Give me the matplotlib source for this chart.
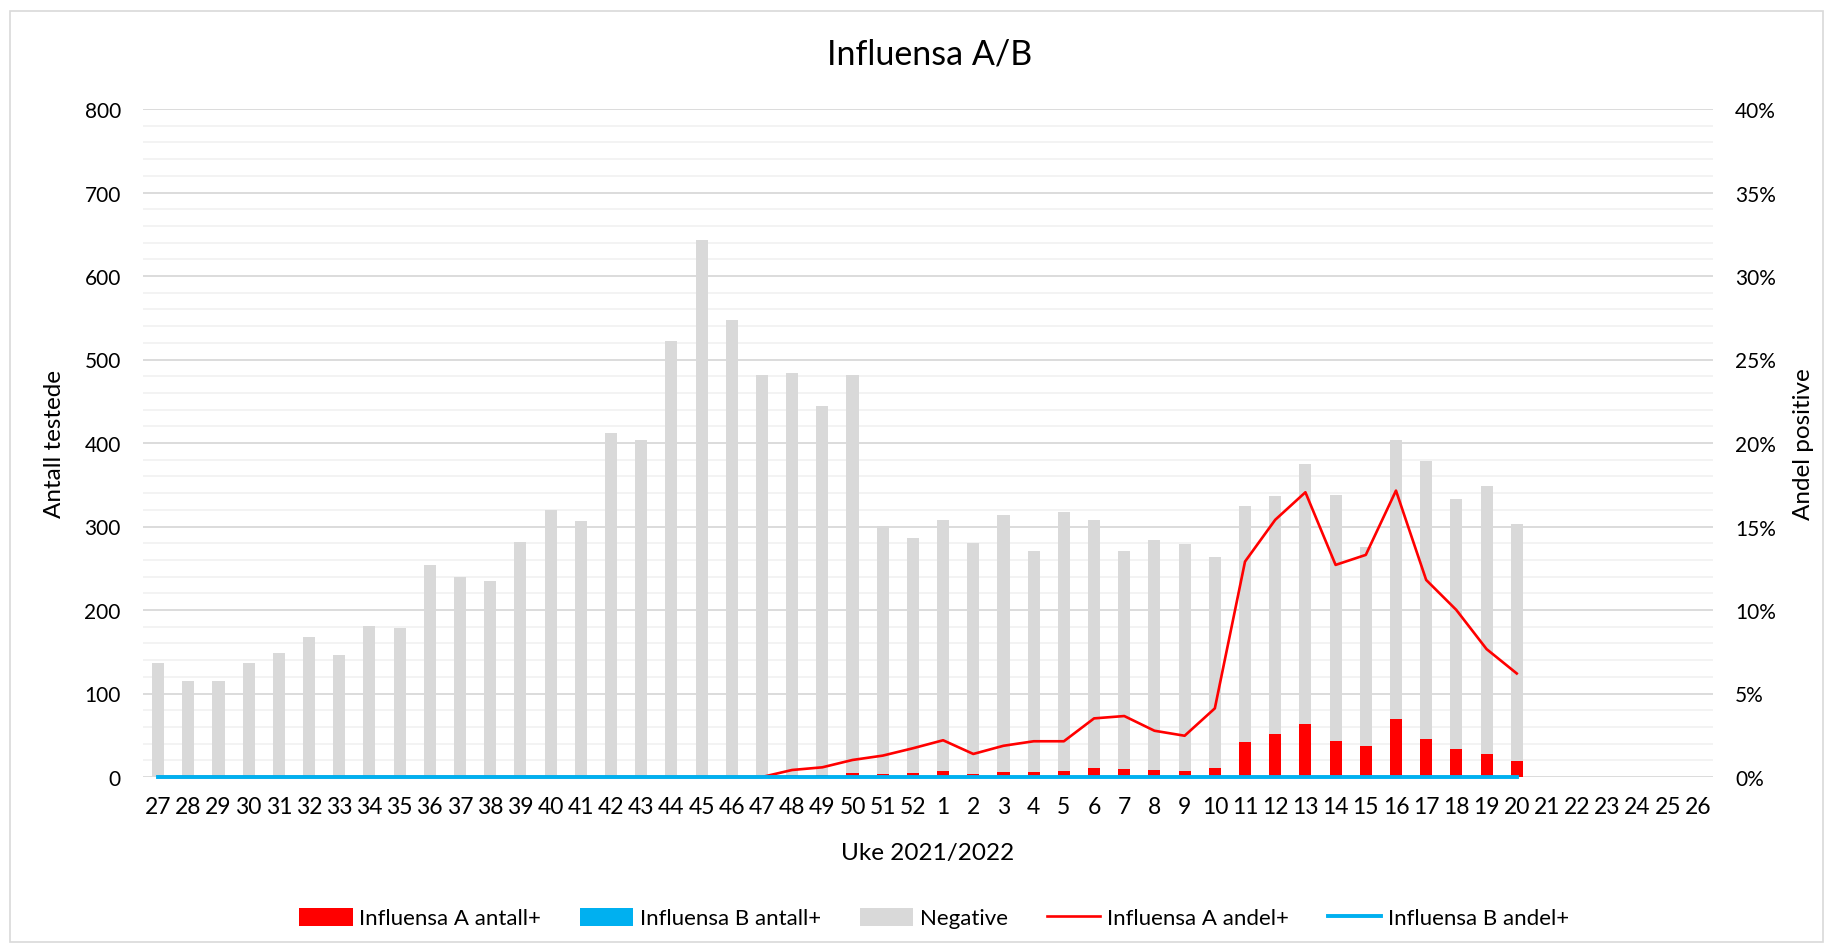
import matplotlib
matplotlib.use("Agg")
import matplotlib.pyplot as plt
from matplotlib.patches import Rectangle
from matplotlib.ticker import MultipleLocator, FuncFormatter
import numpy as np

plt.rcParams['font.family'] = ['Lato', 'DejaVu Sans']

weeks = [str(w) for w in range(27, 53)] + [str(w) for w in range(1, 27)]

# Influensa A positive counts (weeks 27..20), None where no data
flu_a_count = [0]*21 + [2, 2, 5, 4, 5, 7, 4, 6, 6, 7, 11, 10, 8, 7, 11,
                        42, 52, 64, 43, 37, 69, 45, 33, 27, 19] + [None]*6
flu_b_count = [0]*46 + [None]*6
negative = [136, 115, 115, 136, 149, 168, 146, 181, 178, 254, 239, 235, 282,
            320, 306, 412, 404, 522, 643, 547, 482, 482, 442, 477, 297, 281,
            301, 276, 308, 265, 310, 297, 261, 276, 272, 253, 282, 285, 311,
            295, 238, 334, 334, 300, 321, 284] + [None]*6
# Share positive (%)
flu_a_pct = [0]*21 + [0.42, 0.58, 1.02, 1.28, 1.72, 2.2, 1.38, 1.87, 2.14, 2.14,
                      3.51, 3.65, 2.77, 2.47, 4.11, 12.9, 15.4, 17.05, 12.7, 13.3,
                      17.15, 11.8, 10.0, 7.66, 6.2] + [None]*6
flu_b_pct = [0]*46 + [None]*6

RED = '#FF0000'
BLUE = '#00B0F0'
GRAY = '#D9D9D9'

def arr(v):
    return np.array([np.nan if x is None else x for x in v], dtype=float)

a = arr(flu_a_count)
b = arr(flu_b_count)
neg = arr(negative)
x = np.arange(len(weeks))

fig = plt.figure(figsize=(18.33, 9.53), dpi=100)
fig.add_artist(Rectangle((10/1833, 1-943/953), 1813/1833, 931/953,
                         transform=fig.transFigure, fill=False,
                         edgecolor='#D9D9D9', linewidth=1.2))
ax = fig.add_axes([143/1833, 1-778/953, (1713-143)/1833, (778-110)/953])
w = 0.4
h1 = ax.bar(x, np.nan_to_num(a), width=w, color=RED, label='Influensa A antall+', zorder=2)
h2 = ax.bar(x, np.nan_to_num(b), width=w, bottom=np.nan_to_num(a), color=BLUE,
            label='Influensa B antall+', zorder=2)
h3 = ax.bar(x, np.nan_to_num(neg), width=w, bottom=np.nan_to_num(a) + np.nan_to_num(b),
            color=GRAY, label='Negative', zorder=2)
ax.set_xlim(-0.5, len(weeks) - 0.5)
ax.set_ylim(0, 800)
ax.yaxis.set_major_locator(MultipleLocator(100))
ax.yaxis.set_minor_locator(MultipleLocator(20))
ax.grid(which='major', axis='y', color='#D9D9D9', linewidth=1.3, zorder=0)
ax.grid(which='minor', axis='y', color='#F2F2F2', linewidth=1.3, zorder=0)
ax.set_axisbelow(True)
for s in ax.spines.values():
    s.set_visible(False)
ax.set_xticks(x)
ax.set_xticklabels(weeks)
ax.tick_params(axis='x', length=0, pad=14, labelsize=16.5)
ax.tick_params(axis='y', which='both', length=0, pad=16, labelsize=15)
ax.set_ylabel('Antall testede', fontsize=17.5, labelpad=14)
ax.set_xlabel('Uke 2021/2022', fontsize=17.5, labelpad=18)

ax2 = ax.twinx()
ax2.set_ylim(0, 40)
ax2.yaxis.set_major_locator(MultipleLocator(5))
ax2.yaxis.set_major_formatter(FuncFormatter(lambda v, p: f'{v:.0f}%'))
for s in ax2.spines.values():
    s.set_visible(False)
ax2.tick_params(axis='y', length=0, pad=16, labelsize=15)
ax2.set_ylabel('Andel positive', fontsize=17.5, labelpad=12)
l1, = ax2.plot(x, arr(flu_a_pct), color=RED, linewidth=1.9, label='Influensa A andel+',
               clip_on=False)
l2, = ax2.plot(x, arr(flu_b_pct), color=BLUE, linewidth=2.8, label='Influensa B andel+',
               clip_on=False)

fig.text(930/1833, 1-55/953, 'Influensa A/B', ha='center', va='center', fontsize=24.5)

fig.legend(handles=[h1, h2, h3, l1, l2], loc='center', bbox_to_anchor=(934/1833, 1-919/953),
           ncol=5, frameon=False, fontsize=16, handlelength=2.4, handleheight=0.9,
           columnspacing=1.75, handletextpad=0.3)

fig.savefig('out.png', dpi=100)
